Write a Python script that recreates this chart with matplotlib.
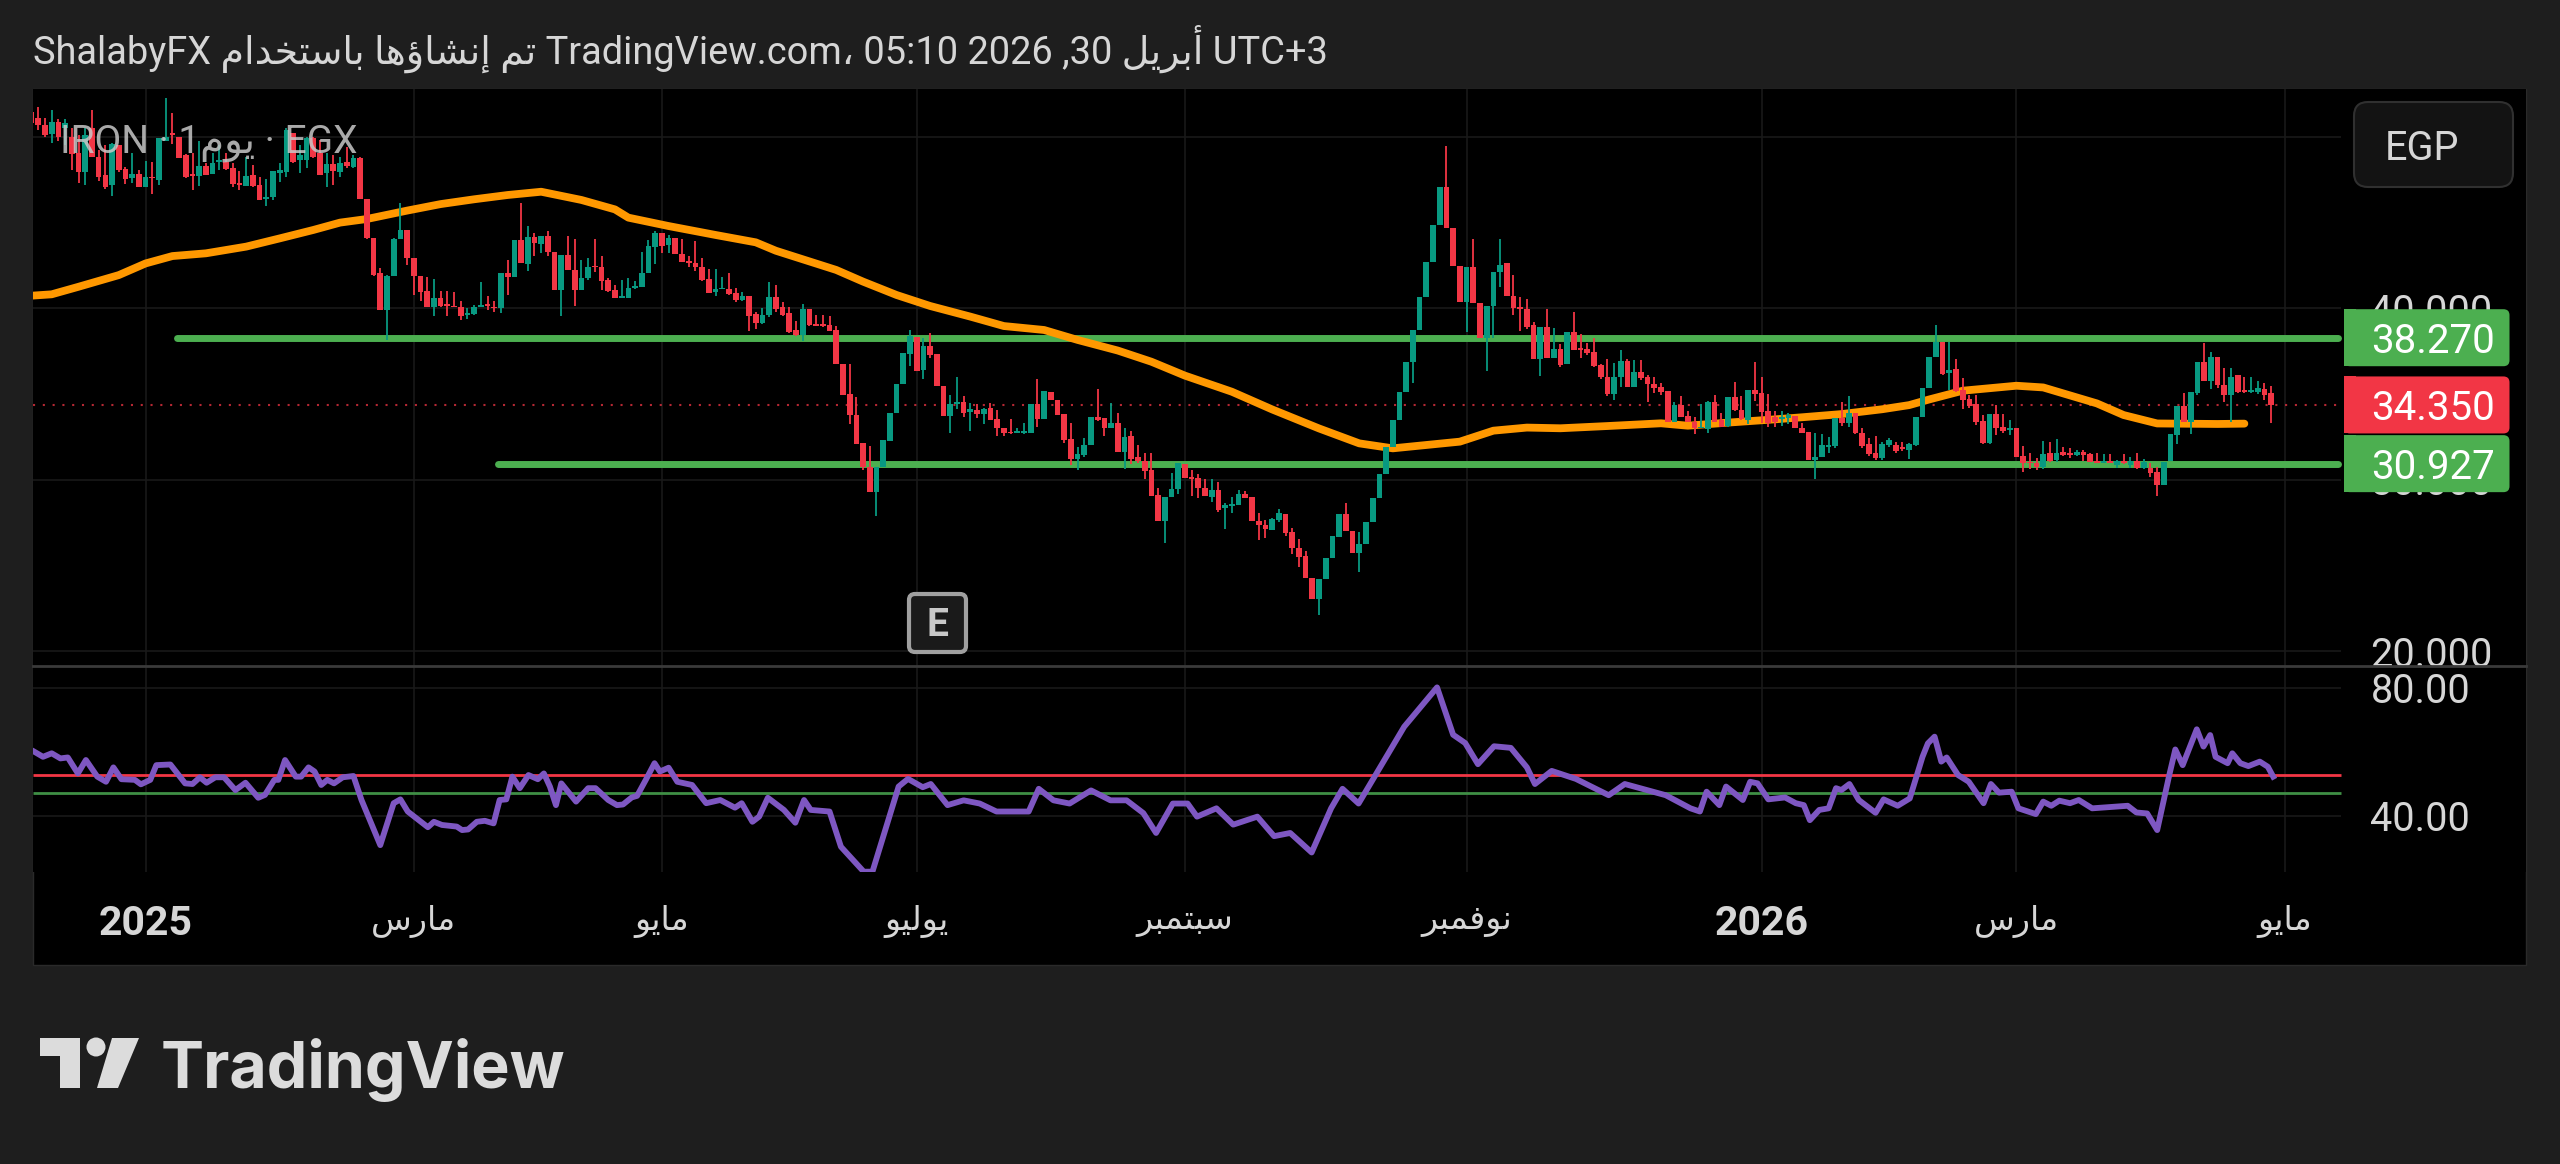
import matplotlib
matplotlib.use("Agg")
import matplotlib.pyplot as plt
import numpy as np
from matplotlib.patches import Rectangle, FancyBboxPatch, Polygon, Circle

plt.rcParams['font.family'] = ['Roboto', 'DejaVu Sans']

# candles
opens = [51.45,51.06,50.67,50.13,50.87,50.48,49.99,49.02,47.95,50.48,
48.82,47.76,47.17,49.50,48.11,47.56,47.79,47.07,47.66,47.46,
49.76,50.15,49.95,48.92,47.79,47.72,48.30,47.79,48.53,48.53,
48.14,47.27,47.13,47.76,47.17,46.36,46.49,47.85,47.95,50.18,
48.63,48.63,49.89,49.02,47.85,48.38,47.95,48.53,48.24,48.77,
46.36,44.06,42.02,39.88,41.89,44.02,44.55,42.90,41.88,40.99,
40.08,40.56,40.17,40.12,40.08,39.57,39.63,40.04,40.23,40.08,
39.98,42.02,41.83,43.96,42.57,44.12,43.73,44.22,43.25,41.05,
43.09,42.22,41.05,41.73,42.47,42.37,41.63,41.05,40.60,40.60,
41.15,41.20,42.06,43.58,44.39,43.67,44.10,43.13,42.76,42.60,
42.37,41.67,40.95,41.09,41.09,40.89,40.47,40.70,39.65,39.11,
39.59,40.62,40.04,39.73,38.72,38.43,39.93,39.07,39.01,39.01,
38.72,36.74,34.97,33.77,32.11,30.75,29.29,30.75,32.27,33.86,
35.57,37.32,38.33,36.39,37.79,37.32,35.46,33.71,34.41,34.54,
33.96,34.06,33.82,34.15,33.53,32.99,32.79,32.70,32.70,32.74,
34.39,33.51,35.13,34.64,33.82,32.35,31.18,31.43,32.02,33.67,
33.57,32.99,33.28,31.59,32.54,31.30,31.10,30.56,29.10,27.60,
29.00,29.45,30.89,30.17,30.07,29.49,29.00,29.39,28.32,28.46,
28.51,29.14,28.96,27.60,27.35,27.06,27.64,27.97,26.96,25.99,
25.54,24.24,23.01,24.18,25.40,26.67,27.97,27.02,25.70,26.22,
27.54,28.90,30.32,31.88,33.47,35.12,36.87,38.72,40.66,42.66,
44.84,47.08,44.69,42.47,40.33,42.37,40.27,38.23,40.14,42.08,
42.61,40.70,40.04,39.93,39.01,37.01,38.88,37.07,37.61,36.74,
38.62,37.65,37.59,37.46,36.68,36.00,34.99,35.96,36.93,35.42,
36.29,35.96,35.57,35.42,35.18,33.38,34.35,33.71,33.38,32.99,
32.93,34.50,33.47,33.12,34.83,34.06,33.47,35.22,35.03,34.00,
33.67,33.51,33.57,33.73,33.03,32.79,31.14,31.34,31.92,31.96,
33.57,33.32,33.90,32.74,32.07,31.53,31.24,32.02,32.01,31.91,
31.72,32.01,33.66,35.32,37.12,38.04,36.19,36.44,35.22,34.67,
34.38,33.43,32.11,33.80,33.04,32.89,32.98,31.37,31.04,30.98,
30.75,31.53,31.14,31.62,31.56,31.43,31.58,31.47,31.10,30.98,
31.04,30.85,31.08,30.85,31.10,30.65,30.65,30.46,29.68,31.10,
32.59,34.29,33.37,35.06,36.87,35.76,37.12,35.51,34.93,36.09,
35.22,35.12,35.12,35.28,35.02]

closes = [50.77,50.67,50.09,50.87,49.99,50.77,48.96,47.95,50.09,48.82,
47.66,47.07,49.54,48.05,47.52,47.79,47.07,47.66,47.56,49.89,
49.99,50.09,48.73,47.66,47.72,48.30,47.76,48.44,48.63,48.11,
47.21,47.17,47.72,47.13,46.30,46.49,47.99,48.05,50.38,48.53,
48.92,49.89,48.82,47.76,48.38,47.99,48.44,48.30,48.73,46.36,
44.06,41.92,39.88,41.89,44.02,44.55,42.90,41.87,40.95,40.08,
40.56,40.14,40.12,40.04,39.53,39.69,40.08,40.17,40.14,39.98,
42.02,41.83,43.96,42.60,44.12,43.77,44.22,43.25,41.05,43.09,
42.22,41.05,41.73,42.41,42.37,41.59,40.99,40.56,40.66,41.15,
41.28,42.06,43.61,44.39,43.61,44.06,43.13,42.66,42.64,42.37,
41.63,40.85,41.09,41.19,40.80,40.47,40.70,39.55,39.11,39.59,
40.62,39.92,39.60,38.62,38.43,39.93,39.01,38.97,38.95,38.68,
36.74,34.93,33.77,32.07,30.75,29.29,30.75,32.31,33.86,35.57,
37.36,38.37,36.35,37.79,37.26,35.46,33.71,34.41,34.54,33.86,
34.10,33.80,34.10,33.47,32.99,32.70,32.70,32.83,32.83,34.39,
33.51,35.17,34.64,33.77,32.31,31.18,31.49,32.02,33.63,33.47,
32.99,33.28,31.59,32.50,31.18,31.10,30.52,29.06,27.60,29.00,
29.45,30.95,30.11,30.03,29.49,29.04,29.39,28.22,28.51,28.57,
29.16,28.90,27.60,27.33,27.10,27.68,28.03,26.90,25.99,25.50,
24.24,23.01,24.18,25.40,26.71,27.97,27.02,25.70,26.22,27.54,
28.90,30.32,31.88,33.47,35.12,36.87,38.72,40.66,42.66,44.84,
47.08,44.69,42.47,40.33,42.37,40.27,38.23,40.14,42.12,42.51,
40.70,39.98,39.93,38.92,37.01,38.88,37.07,37.59,36.68,38.62,
37.56,37.56,37.40,36.62,35.96,34.99,36.00,36.93,35.42,36.29,
35.90,35.57,35.32,35.13,33.38,34.35,33.67,33.34,32.99,33.09,
34.54,33.38,33.09,34.83,34.06,33.51,35.22,34.99,33.96,33.32,
33.38,33.67,33.77,32.99,32.74,31.14,31.34,32.02,32.02,33.57,
33.32,33.90,32.74,31.96,31.49,31.28,32.07,32.31,31.68,31.76,
32.07,33.66,35.32,37.12,38.04,36.15,36.38,35.16,34.64,34.29,
33.37,32.11,33.82,32.98,32.85,32.98,31.33,30.98,30.94,30.75,
31.49,31.10,31.56,31.43,31.43,31.62,31.43,31.04,30.98,31.10,
30.98,31.08,30.94,31.10,30.65,31.04,30.40,29.68,31.04,32.65,
34.29,33.37,35.12,36.83,35.76,37.12,35.51,34.93,36.00,35.12,
35.12,35.18,35.35,34.93,34.35]

highs = [52.03,51.74,51.10,51.55,51.02,51.02,50.48,50.09,50.48,51.55,
49.21,49.50,49.60,49.50,48.24,49.02,48.05,48.57,48.53,49.89,
52.23,51.35,49.99,48.96,49.02,49.74,48.44,49.02,49.50,49.02,
48.44,47.99,48.82,48.34,47.66,47.52,47.99,48.44,50.48,50.18,
49.50,49.99,49.99,49.79,49.02,48.92,48.82,49.41,48.92,48.82,
46.36,44.06,42.31,41.92,44.06,46.10,44.55,42.90,41.88,41.79,
41.69,41.01,41.01,40.95,40.41,39.98,40.17,41.54,40.72,40.43,
42.02,42.80,43.96,46.10,44.78,44.39,44.22,44.51,43.25,43.09,
44.22,44.00,42.80,42.90,44.00,43.03,41.73,41.34,41.63,41.73,
41.59,43.28,43.96,44.51,44.39,44.26,44.10,44.00,43.03,43.93,
42.93,42.27,42.27,41.79,42.02,41.15,40.95,40.70,39.75,39.98,
41.54,41.34,40.37,40.04,39.27,40.24,39.93,39.60,39.60,39.56,
38.95,36.74,36.72,34.83,32.11,31.96,30.75,32.31,33.86,35.57,
37.36,38.72,38.33,38.24,38.53,37.32,35.46,34.93,36.00,34.89,
34.45,34.41,34.15,34.45,34.06,32.99,33.53,32.99,33.32,34.39,
35.84,35.17,35.13,34.64,33.82,33.32,31.92,32.40,33.63,35.26,
33.57,34.48,33.86,32.99,32.85,32.02,31.57,31.53,29.49,29.00,
30.36,30.95,30.89,30.56,30.32,30.01,30.01,29.87,28.61,29.00,
29.39,29.35,28.96,28.03,27.64,27.74,28.26,27.97,27.15,26.51,
25.85,24.24,24.18,25.40,26.71,27.97,28.65,27.02,26.96,27.54,
28.90,30.32,31.88,33.47,35.12,36.87,38.72,40.66,42.66,44.84,
47.08,49.45,44.69,42.47,42.37,44.00,40.27,40.14,42.12,44.00,
42.61,41.93,40.67,40.51,39.21,38.88,39.93,38.82,37.91,38.62,
39.79,38.49,37.98,38.24,36.74,37.01,36.82,37.56,37.01,36.97,
36.97,36.10,35.96,35.61,35.18,34.50,34.89,34.02,33.67,34.41,
34.60,34.93,33.90,34.83,35.71,34.87,35.22,36.87,36.00,34.99,
34.02,34.02,33.90,33.73,33.32,32.79,32.70,32.66,32.50,33.57,
34.50,34.87,33.90,32.99,32.40,32.54,32.21,32.40,32.21,32.21,
32.15,33.66,35.32,37.12,39.01,38.04,38.04,37.01,35.90,34.93,
34.93,33.76,33.82,34.34,33.82,33.47,32.98,31.95,31.53,31.23,
32.26,32.21,32.34,31.91,31.82,31.72,31.72,31.53,31.53,31.49,
31.49,31.14,31.47,31.29,31.53,31.18,30.98,30.75,31.04,32.65,
34.29,35.02,35.12,36.83,37.98,37.45,37.12,36.48,36.48,36.09,
36.00,36.00,35.74,35.61,35.45]

lows = [50.48,50.38,49.99,49.60,49.74,49.50,48.05,47.27,47.17,48.82,
47.41,46.94,46.55,47.91,47.21,47.27,47.07,47.07,46.63,47.17,
49.76,49.54,48.73,47.56,46.88,47.13,47.76,47.79,48.05,48.05,
47.07,46.88,47.13,47.07,46.30,45.97,46.30,47.33,47.66,48.44,
47.85,48.14,48.73,47.76,47.07,47.17,47.66,48.18,48.18,46.36,
44.02,41.89,39.88,38.13,41.89,44.02,42.51,40.76,40.43,40.08,
39.55,40.08,39.55,40.04,39.30,39.36,39.59,40.04,39.88,39.79,
39.73,40.76,41.83,42.60,42.18,43.05,43.19,43.05,41.05,39.55,
42.22,40.12,41.05,41.63,42.12,41.05,40.95,40.56,40.56,40.56,
41.09,41.20,42.06,42.57,43.19,43.19,43.13,42.66,42.37,42.18,
41.59,40.85,40.72,41.09,40.76,40.33,40.43,38.68,38.76,39.07,
39.46,39.77,39.54,38.57,38.39,38.10,38.95,38.95,38.92,38.68,
36.74,34.93,33.24,32.07,30.56,29.29,27.88,30.75,32.27,33.86,
35.57,36.62,36.35,35.85,37.07,35.46,33.71,32.74,34.10,33.67,
32.83,33.57,33.24,33.47,32.56,32.56,32.66,32.70,32.66,32.74,
33.05,33.51,34.64,33.77,32.11,30.85,30.56,31.34,32.02,33.43,
32.54,32.99,31.59,30.60,30.91,30.99,30.01,29.06,27.60,26.32,
29.00,29.14,30.07,29.04,28.94,29.04,28.71,28.13,27.10,28.07,
28.51,28.90,27.60,26.47,26.57,27.06,27.54,26.71,25.66,24.88,
24.24,23.01,22.10,24.18,25.40,26.67,27.02,25.70,24.61,26.22,
27.54,28.90,30.32,31.88,33.47,35.12,35.61,38.72,40.66,42.66,
44.84,44.69,42.47,40.33,38.62,40.27,38.23,36.35,38.23,41.21,
40.70,39.59,38.68,38.76,37.01,36.06,37.07,37.07,36.58,36.74,
37.56,37.07,37.26,36.58,35.85,34.89,34.64,35.38,35.42,35.42,
35.81,34.54,35.07,34.93,33.38,33.38,33.63,33.34,32.64,32.99,
32.74,33.38,33.05,33.09,34.02,33.47,33.24,34.60,33.28,33.05,
33.05,33.14,33.24,32.99,32.74,31.14,30.01,31.34,31.53,31.82,
33.12,33.09,32.66,31.82,31.37,31.14,31.14,31.92,31.53,31.68,
31.18,31.95,33.66,35.32,37.12,36.09,35.22,35.12,34.09,34.15,
33.18,32.07,32.07,32.59,32.73,32.59,31.33,30.46,30.61,30.55,
30.59,31.04,31.04,31.37,31.23,31.37,31.10,31.00,30.94,30.94,
30.94,30.65,30.90,30.65,30.61,30.59,30.17,29.04,29.68,31.10,
32.07,33.37,32.63,34.93,35.76,35.26,35.32,34.54,33.37,35.06,
35.02,35.06,34.99,34.64,33.27]

# orange moving average, bar and value where the curve bends
ma_bars = [0,3,7,13,17,21,26,32,37,42,46,50,56,61,66,71,76,82,87,89,95,102,108,111,
           120,124,129,134,140,145,151,156,162,167,172,179,185,192,198,203,213,218,
           223,228,235,243,247,253,260,264,270,276,280,283,288,296,300,308,312,317,326,330]
ma_values = [40.72,40.80,41.24,41.92,42.60,43.03,43.19,43.58,44.06,44.55,44.98,45.19,45.68,
             46.06,46.34,46.59,46.78,46.30,45.75,45.27,44.78,44.26,43.83,43.34,
             42.22,41.54,40.76,40.12,39.50,38.95,38.72,38.14,37.52,36.87,36.06,35.12,34.09,
             32.98,32.11,31.82,32.21,32.85,33.03,32.99,33.12,33.28,33.14,33.32,33.51,33.63,
             33.82,34.10,34.34,34.67,35.18,35.47,35.37,34.44,33.76,33.27,33.24,33.26]

# rsi pane
rsi_bars = [0.4,1.7,3,4.3,5.4,6.9,8.1,9.8,11.1,12.2,13.4,15.4,16.3,17.7,18.6,20.7,22.9,24,25.1,26.1,
27.4,28.7,30.4,31.9,33.8,34.8,36.2,36.8,37.8,39.4,40.2,41.3,42.2,43.2,44.1,45.1,46.4,48,49.2,52,
54,55,56.1,59.1,60,61.2,63.4,64.2,65.1,66.4,67.6,68.9,69.8,70.8,71.7,72.8,74.1,75.5,76.4,77.3,
78.2,79,81.2,83,84.1,86,87.3,88.2,89.5,90.3,91.6,92.9,93.7,95,96.3,98.5,100.6,102.7,104.9,105.9,
107.5,108.5,109.8,112.2,113.9,115.2,116.2,119,120.7,124.1,125.4,129.3,
130.7,132.9,134.1,136.6,139,141.4,143.9,148.7,150.2,152.4,154.8,158,160.9,163.3,165.8,167.7,170.2,172.4,
173.8,176.7,179.2,182.8,185.3,187.7,190.9,193.8,195.5,197.9,201.1,204.7,209.6,212,213.8,215.7,218.1,220.6,
223,224.2,226.7,230.3,235.2,237.6,243.7,247.4,
248.8,249.8,251.7,252.7,255.2,256.3,257.4,259,261.5,263.1,264.3,265.2,266.6,268,269.1,269.9,271.1,272.5,
275,276.2,278.3,280.1,282,282.8,283.8,284.8,285.6,287.3,288.9,291.1,292.2,293.4,295.3,296.3,298.9,300,
301.2,302.4,304,305.3,307.3,312.6,313.9,315.5,317,318.8,319.7,320.8,322.9,323.9,324.9,325.7,327.5,328.2,
329.4,330.6,332.3,333.5,334.3]
rsi_values = [60.0,58.4,59.5,57.9,58.2,53.2,57.4,52.2,50.6,55.1,51.4,51.2,49.8,51.2,55.8,56.0,50.1,49.9,52.0,50.3,
52.0,52.0,48.0,50.3,45.6,46.5,51.2,51.2,57.4,52.2,52.2,55.1,53.8,49.6,51.2,50.1,52.0,52.4,44.9,30.8,
43.9,45.1,41.3,36.4,38.1,37.1,36.6,35.5,35.7,38.1,38.4,37.6,44.9,45.1,52.2,48.6,52.7,51.4,53.2,49.1,
43.3,50.1,44.4,48.6,48.6,44.9,43.3,43.5,45.7,46.2,51.2,56.4,53.8,55.0,50.6,49.6,43.9,44.9,42.5,43.9,
38.1,39.7,45.6,41.8,37.8,44.9,41.8,41.3,30.3,22.5,22.5,49.1,
51.5,48.9,49.9,43.3,44.8,43.8,41.3,41.3,48.4,44.8,43.8,47.9,44.8,44.8,40.8,34.6,43.8,43.8,
39.7,42.3,37.2,39.7,33.6,34.6,28.5,42.3,48.4,43.8,55.1,67.8,80.1,65.3,62.7,56.1,61.7,61.2,
55.1,49.9,54.0,51.5,46.4,49.9,46.4,42.3,
41.3,47.5,43.3,49.1,44.9,50.6,50.1,45.1,45.7,43.9,43.3,38.6,41.8,42.3,48.6,48.0,49.9,44.9,
40.9,45.1,43.1,45.4,58.4,62.6,64.7,56.9,58.2,52.7,50.6,43.9,49.9,47.2,47.5,42.3,40.5,44.4,
43.1,44.7,43.9,44.9,42.3,43.1,41.0,40.7,35.5,52.7,60.7,55.8,67.0,61.6,65.2,58.4,56.4,59.5,
56.4,55.5,56.9,55.3,52.2]

upper_level = 38.27
lower_level = 30.927
last_price = 34.35
rsi_upper = 52.8
rsi_lower = 47.0

price_grid = [50, 40, 30, 20]
price_ticks = [40, 30, 20]
rsi_ticks = [80, 40]

tick_bars = [17, 57, 94, 132, 172, 214, 258, 296, 336]
tick_names = ['2025', 'مارس', 'مايو', 'يوليو', 'سبتمبر', 'نوفمبر', '2026', 'مارس', 'مايو']

# matplotlib does not join arabic letters, so pick the joined forms by hand
DUAL = {'ب':0xFE8F,'ت':0xFE95,'خ':0xFEA5,'س':0xFEB1,'ش':0xFEB5,'ف':0xFED1,
        'ل':0xFEDD,'م':0xFEE1,'ن':0xFEE5,'ه':0xFEE9,'ي':0xFEF1}
RIGHT = {'ا':0xFE8D,'أ':0xFE83,'إ':0xFE87,'ؤ':0xFE85,'د':0xFEA9,'ر':0xFEAD,'و':0xFEED}

def ar(s):
    out = []
    for i, c in enumerate(s):
        if c not in DUAL and c not in RIGHT:
            out.append(c)
            continue
        joins_prev = i > 0 and s[i-1] in DUAL
        joins_next = c in DUAL and i < len(s)-1 and (s[i+1] in DUAL or s[i+1] in RIGHT)
        if c in RIGHT:
            out.append(chr(RIGHT[c] + (1 if joins_prev else 0)))
        else:
            form = 3 if joins_prev and joins_next else 1 if joins_prev else 2 if joins_next else 0
            out.append(chr(DUAL[c] + form))
    return ''.join(reversed(out))

BG = '#1e1e1e'
TXT = '#d6d6d6'
RED = '#F23645'
TEAL = '#089981'
GREEN = '#4CAF50'
GRID = '#191919'
W, H = 2560, 1164

fig = plt.figure(figsize=(W/100, H/100), dpi=100, facecolor=BG)
fig.add_artist(Rectangle((33/W, 1-965/H), (2526-33)/W, (965-89)/H, transform=fig.transFigure,
                         facecolor='black', edgecolor='#2a2a2a', lw=1, zorder=-1))

ax = fig.add_axes([33/W, 1-666/H, (2526-33)/W, (666-89)/H], facecolor='black')
ax2 = fig.add_axes([33/W, 1-872/H, (2526-33)/W, (872-667)/H], facecolor='black')
xlim = (0.21, 372.0)
grid_end = 344.4

bars = np.arange(len(opens))
o, c, h, l = map(np.array, (opens, closes, highs, lows))
colors = np.where(c >= o, TEAL, RED)

for a in (ax, ax2):
    a.set_xlim(*xlim)
    for s in a.spines.values():
        s.set_visible(False)
    a.set_yticks([])
    a.set_xticks(tick_bars)
    a.tick_params(axis='x', length=0)
    a.grid(axis='x', color=GRID, lw=1.2)
    a.set_axisbelow(True)

ax.set_ylim(19.13, 52.77)
ax.set_xticklabels([])
ax.hlines(price_grid, xlim[0], grid_end, color=GRID, lw=1.2, zorder=1)
ax.plot([xlim[0], grid_end], [last_price, last_price], color=RED, lw=1.5, alpha=0.75,
        dashes=(1, 3.7), dash_capstyle='butt', zorder=2)
ax.plot([21.7, 344], [upper_level, upper_level], color=GREEN, lw=5, solid_capstyle='round', zorder=3)
ax.plot([69.6, 344], [lower_level, lower_level], color=GREEN, lw=5, solid_capstyle='round', zorder=3)
ax.plot(ma_bars, ma_values, color='#FF9800', lw=5.6, solid_capstyle='round', solid_joinstyle='round', zorder=4)
ax.vlines(bars, l, h, colors=colors, lw=1.3, zorder=5)
ax.bar(bars, np.maximum(np.abs(c-o), 0.09), bottom=np.minimum(o, c), width=0.85, color=colors, zorder=6)
for p in price_ticks:
    ax.text(348.8, p, '%.3f' % p, color=TXT, fontsize=28.5, va='center_baseline', ha='left', zorder=7)

ax2.set_ylim(22.4, 86.47)
ax2.hlines(rsi_ticks, xlim[0], grid_end, color=GRID, lw=1.2, zorder=1)
ax2.hlines(rsi_upper, xlim[0], grid_end, color=RED, lw=2.0, zorder=2)
ax2.hlines(rsi_lower, xlim[0], grid_end, color='#3f8f45', lw=2.0, zorder=2)
ax2.plot(rsi_bars, rsi_values, color='#7E57C2', lw=4.2, solid_joinstyle='round', zorder=3)
for p in rsi_ticks:
    ax2.text(348.8, p, '%.2f' % p, color=TXT, fontsize=28.5, va='center_baseline', ha='left', zorder=7)

ax2.set_xticks(tick_bars)
ax2.set_xticklabels([t if t.isdigit() else ar(t) for t in tick_names], color=TXT, fontsize=24)
ax2.tick_params(axis='x', pad=24)
for t, name in zip(ax2.get_xticklabels(), tick_names):
    if name.isdigit():
        t.set_fontweight('bold')
        t.set_fontsize(29.5)

# overlay in picture pixels for labels, badges and logo
ov = fig.add_axes([0, 0, 1, 1], zorder=10)
ov.set_xlim(0, W)
ov.set_ylim(H, 0)
ov.axis('off')

title = 'ShalabyFX ' + ar('تم إنشاؤها باستخدام') + ' TradingView.com، 05:10 2026 ,30 ' + ar('أبريل') + ' UTC+3'
ov.text(33, 49, title, color=TXT, fontsize=27.4, va='center', ha='left')
ov.text(60, 143, 'IRON · 1' + ar('يوم') + ' · EGX', color='#c8c8c8', alpha=0.85, fontsize=28, va='center', ha='left')

ov.plot([33, 2526], [666, 666], color='#3a3a3a', lw=2)

ov.add_patch(FancyBboxPatch((2366, 114), 135, 61, boxstyle='round,pad=12,rounding_size=14',
                            facecolor='#131313', edgecolor='#303030', lw=1.5))
ov.text(2385, 144, 'EGP', color=TXT, fontsize=28.5, va='center_baseline', ha='left')

ov.add_patch(FancyBboxPatch((911, 596), 53, 54, boxstyle='round,pad=2,rounding_size=6',
                            facecolor='#1a1a1a', edgecolor='#a0a0a0', lw=3))
ov.text(937, 622, 'E', color='#c8c8c8', fontsize=28, fontweight='bold', va='center_baseline', ha='center')

# price labels sit on their own level
for value, col in ((upper_level, GREEN), (last_price, RED), (lower_level, GREEN)):
    yc = H - ax.transData.transform((0, value))[1]
    ov.add_patch(FancyBboxPatch((2349, yc-23.5), 155.5, 47, boxstyle='round,pad=5,rounding_size=6',
                                facecolor=col, edgecolor='none', zorder=5))
    ov.add_patch(Rectangle((2344, yc-28.5), 12, 57, facecolor=col, edgecolor='none', zorder=5))
    ov.text(2371, yc, '%.3f' % value, color='white', fontsize=29, va='center_baseline', ha='left', zorder=6)

# logo
LOGO = '#dcdcdc'
ov.add_patch(Polygon([(40, 1038), (80, 1038), (80, 1088), (60, 1088), (60, 1056), (40, 1056)], facecolor=LOGO, edgecolor='none'))
ov.add_patch(Circle((96, 1047), 9.5, facecolor=LOGO, edgecolor='none'))
ov.add_patch(Polygon([(112, 1038), (139, 1038), (118, 1088), (97, 1088)], facecolor=LOGO, edgecolor='none'))
ov.text(161, 1088, 'TradingView', color=LOGO, fontsize=46.5, fontweight='bold', family='Inter', va='baseline', ha='left')

fig.savefig('out.png', dpi=100, facecolor=BG)
